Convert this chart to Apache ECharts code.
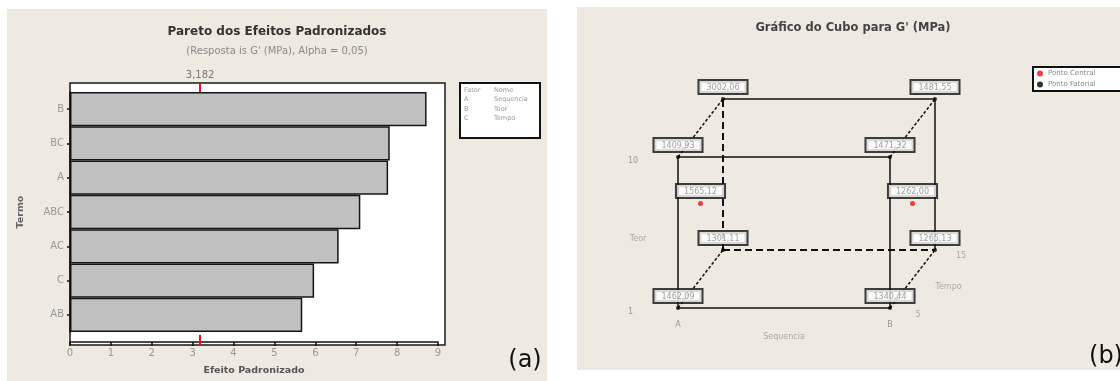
<!DOCTYPE html>
<html>
<head>
<meta charset="utf-8">
<script src="https://cdn.jsdelivr.net/npm/echarts@6.0.0/dist/echarts.min.js"></script>
<style>
  html, body { margin: 0; padding: 0; background: #fff; }
  #chart { width: 1120px; height: 381px; }
</style>
</head>
<body>
<div id="chart"></div>
<script>
// (a) Pareto dos efeitos padronizados
const termos = ['B', 'BC', 'A', 'ABC', 'AC', 'C', 'AB'];
const efeitos = [8.72, 7.82, 7.78, 7.10, 6.57, 5.97, 5.68];
const limite = 3.182;
const efeitoMax = 9;
const fatorCodigos = ['A', 'B', 'C'];
const fatorNomes = ['Sequencia', 'Teor', 'Tempo'];

// (b) grafico do cubo
const sequenciaNiveis = ['A', 'B'];
const teorNiveis = [1, 10];
const tempoNiveis = [5, 15];
const cantoSequencia = ['A', 'B', 'A', 'B', 'A', 'B', 'A', 'B'];
const cantoTeor = [1, 1, 10, 10, 1, 1, 10, 10];
const cantoTempo = [5, 5, 5, 5, 15, 15, 15, 15];
const cantoValores = [1462.09, 1340.44, 1409.93, 1471.32, 1301.11, 1265.13, 3002.06, 1481.55];
const centroSequencia = ['A', 'B'];
const centroValores = [1565.12, 1262.00];

// perspectiva obliqua do cubo (fracao da largura / altura da face frontal)
const DX = 45 / 212, DY = 58 / 151;
function proj(seq, teor, tempo) {
  const s = sequenciaNiveis.indexOf(seq);
  const u = (teor - teorNiveis[0]) / (teorNiveis[1] - teorNiveis[0]);
  const t = (tempo - tempoNiveis[0]) / (tempoNiveis[1] - tempoNiveis[0]);
  return [s + t * DX, u + t * DY];
}
const fmt = v => v.toFixed(2).replace('.', ',');
const teorMeio = (teorNiveis[0] + teorNiveis[1]) / 2;
const tempoMeio = (tempoNiveis[0] + tempoNiveis[1]) / 2;

// arestas: indices dos cantos + estilo
const arestas = [
  [0, 1, 'solid'], [2, 3, 'solid'], [0, 2, 'solid'], [1, 3, 'solid'],
  [6, 7, 'solid'], [5, 7, 'solid'], [4, 6, 'back'], [4, 5, 'back'],
  [0, 4, 'depth'], [1, 5, 'depth'], [2, 6, 'depth'], [3, 7, 'depth']
];
const estilos = {
  solid: { type: 'solid', width: 1.5 },
  back: { type: [7, 4], width: 2 },
  depth: { type: [3, 2], width: 1.5 }
};

const cantos = cantoValores.map((v, i) =>
  proj(cantoSequencia[i], cantoTeor[i], cantoTempo[i]).concat(v));
const centros = centroValores.map((v, i) =>
  proj(centroSequencia[i], teorMeio, tempoMeio).concat(v));

const FONT = 'DejaVu Sans';

const rotuloValor = {
  show: true,
  position: 'top',
  distance: 4,
  formatter: p => fmt(p.value[2]),
  fontSize: 8,
  fontFamily: FONT,
  color: '#8a8a8a',
  backgroundColor: '#fff',
  borderColor: '#111',
  borderWidth: 2,
  padding: [2, 7, 1, 7],
  lineHeight: 9
};

const arestaSeries = arestas.map(a => ({
  type: 'line',
  xAxisIndex: 3,
  yAxisIndex: 2,
  data: [cantos[a[0]].slice(0, 2), cantos[a[1]].slice(0, 2)],
  showSymbol: false,
  silent: true,
  clip: false,
  lineStyle: Object.assign({ color: '#111' }, estilos[a[2]]),
  z: 2
}));

const myChart = echarts.init(document.getElementById('chart'));
const option = {
  animation: false,
  textStyle: { fontFamily: FONT },
  graphic: [
    { type: 'rect', z: -5, shape: { x: 7, y: 9, width: 540, height: 372 }, style: { fill: '#eeeae1' } },
    { type: 'rect', z: -5, shape: { x: 577, y: 7, width: 543, height: 363 }, style: { fill: '#eeeae1' } },
    { type: 'rect', z: -1, shape: { x: 70, y: 83, width: 375, height: 262 }, style: { fill: '#fff', stroke: '#1a1a1a', lineWidth: 1.5 } },
    { type: 'rect', shape: { x: 460, y: 83, width: 80, height: 55 }, style: { fill: '#fff', stroke: '#111', lineWidth: 2 } },
    { type: 'text', x: 464, y: 86, style: { text: ['Fator'].concat(fatorCodigos).join('\n'), fontSize: 6.5, lineHeight: 9.2, fill: '#999', fontFamily: FONT } },
    { type: 'text', x: 494, y: 86, style: { text: ['Nome'].concat(fatorNomes).join('\n'), fontSize: 6.5, lineHeight: 9.2, fill: '#999', fontFamily: FONT } },
    { type: 'text', x: 277, y: 32, style: { text: 'Pareto dos Efeitos Padronizados', fontSize: 12, fontWeight: 'bold', fill: '#333', align: 'center', verticalAlign: 'middle', fontFamily: FONT } },
    { type: 'text', x: 277, y: 51, style: { text: "(Resposta is G' (MPa), Alpha = 0,05)", fontSize: 10, fill: '#8a8a8a', align: 'center', verticalAlign: 'middle', fontFamily: FONT } },
    { type: 'text', x: 853, y: 28, style: { text: "Gráfico do Cubo para G' (MPa)", fontSize: 11.5, fontWeight: 'bold', fill: '#444', align: 'center', verticalAlign: 'middle', fontFamily: FONT } },
    { type: 'text', x: 525, y: 361, style: { text: '(a)', fontSize: 24, fill: '#111', align: 'center', verticalAlign: 'middle', fontFamily: FONT } },
    { type: 'text', x: 1106, y: 357, style: { text: '(b)', fontSize: 24, fill: '#111', align: 'center', verticalAlign: 'middle', fontFamily: FONT } }
  ],
  legend: {
    data: ['Ponto Central', 'Ponto Fatorial'],
    orient: 'vertical',
    left: 1033,
    top: 67,
    icon: 'circle',
    itemWidth: 6,
    itemHeight: 6,
    itemGap: 4,
    padding: [3, 30, 3, 4],
    backgroundColor: '#fff',
    borderColor: '#111',
    borderWidth: 2,
    textStyle: { fontSize: 7, color: '#888', fontFamily: FONT }
  },
  grid: [
    { left: 70, top: 92, width: 368, height: 243 },
    { left: 70, top: 335, width: 368, height: 10 },
    { left: 678, top: 99, width: 212 * (1 + DX), height: 151 * (1 + DY) }
  ],
  xAxis: [
    {
      gridIndex: 0,
      type: 'value',
      min: 0,
      max: efeitoMax,
      interval: 1,
      position: 'bottom',
      offset: 10,
      splitLine: { show: false },
      axisLine: { show: true, lineStyle: { color: '#111', width: 1.5 } },
      axisTick: { show: true, length: 4, lineStyle: { color: '#111', width: 1.5 } },
      axisLabel: { color: '#999', fontSize: 10, margin: 6 },
      name: 'Efeito Padronizado',
      nameLocation: 'middle',
      nameGap: 24,
      nameTextStyle: { fontWeight: 'bold', fontSize: 9.5, color: '#555' }
    },
    {
      gridIndex: 0,
      type: 'value',
      min: 0,
      max: efeitoMax,
      position: 'top',
      offset: 9,
      splitLine: { show: false },
      axisLine: { show: false },
      axisTick: { show: true, inside: true, length: 9, customValues: [limite], lineStyle: { color: '#e8101a', width: 2 } },
      axisLabel: { show: true, customValues: [limite], formatter: v => String(v).replace('.', ','), color: '#777', fontSize: 10, margin: 3 }
    },
    {
      gridIndex: 1,
      type: 'value',
      min: 0,
      max: efeitoMax,
      position: 'bottom',
      splitLine: { show: false },
      axisLine: { show: false },
      axisTick: { show: true, inside: true, length: 10, customValues: [limite], lineStyle: { color: '#e8101a', width: 2 } },
      axisLabel: { show: false }
    },
    {
      gridIndex: 2,
      type: 'value',
      min: 0,
      max: 1 + DX,
      splitLine: { show: false },
      axisLine: { show: false },
      axisTick: { show: false },
      axisLabel: { customValues: [0, 1], formatter: v => sequenciaNiveis[v], color: '#999', fontSize: 8, margin: 13 }
    }
  ],
  yAxis: [
    {
      gridIndex: 0,
      type: 'category',
      data: termos,
      inverse: true,
      axisLine: { show: true, lineStyle: { color: '#111', width: 1.5 } },
      axisTick: { show: true, alignWithLabel: true, length: 3, lineStyle: { color: '#111', width: 1.5 } },
      axisLabel: { color: '#999', fontSize: 10, margin: 6 },
      name: 'Termo',
      nameLocation: 'middle',
      nameGap: 44,
      nameTextStyle: { fontWeight: 'bold', fontSize: 9.5, color: '#666' }
    },
    {
      gridIndex: 1,
      type: 'value',
      show: false,
      min: 0,
      max: 1
    },
    {
      gridIndex: 2,
      type: 'value',
      min: 0,
      max: 1 + DY,
      splitLine: { show: false },
      axisLine: { show: false },
      axisTick: { show: false },
      axisLabel: { customValues: [0, 1], formatter: v => String(teorNiveis[v]), color: '#999', fontSize: 8, align: 'left', verticalAlign: 'top', margin: 50 }
    }
  ],
  series: [
    {
      name: 'Efeito',
      type: 'bar',
      xAxisIndex: 0,
      yAxisIndex: 0,
      data: efeitos,
      barCategoryGap: '0%',
      itemStyle: { color: '#c0c0c0', borderColor: '#151515', borderWidth: 1.5 },
      z: 3
    }
  ].concat(arestaSeries).concat([
    {
      name: 'Ponto Fatorial',
      type: 'scatter',
      xAxisIndex: 3,
      yAxisIndex: 2,
      data: cantos,
      symbol: 'circle',
      symbolSize: 4,
      clip: false,
      itemStyle: { color: '#000' },
      label: rotuloValor,
      z: 4
    },
    {
      name: 'Ponto Central',
      type: 'scatter',
      xAxisIndex: 3,
      yAxisIndex: 2,
      data: centros,
      symbol: 'circle',
      symbolSize: 5,
      clip: false,
      itemStyle: { color: '#ee1111' },
      label: rotuloValor,
      z: 4
    },
    {
      name: 'Rotulos',
      type: 'scatter',
      xAxisIndex: 3,
      yAxisIndex: 2,
      symbolSize: 0,
      clip: false,
      silent: true,
      data: [
        { value: proj('B', teorNiveis[0], tempoNiveis[0]), label: { formatter: String(tempoNiveis[0]), offset: [28, 7] } },
        { value: proj('B', teorNiveis[0], tempoNiveis[1]), label: { formatter: String(tempoNiveis[1]), offset: [26, 6] } },
        { value: proj('B', teorNiveis[0], tempoMeio), label: { formatter: 'Tempo', offset: [36, 8] } },
        { value: proj('A', teorMeio, tempoNiveis[0]), label: { formatter: 'Teor', offset: [-40, 6] } },
        { value: [0.5, 0], label: { formatter: 'Sequencia', offset: [0, 29] } }
      ],
      label: { show: true, position: 'inside', color: '#999', fontSize: 8 }
    }
  ])
};
myChart.setOption(option);
</script>
</body>
</html>
